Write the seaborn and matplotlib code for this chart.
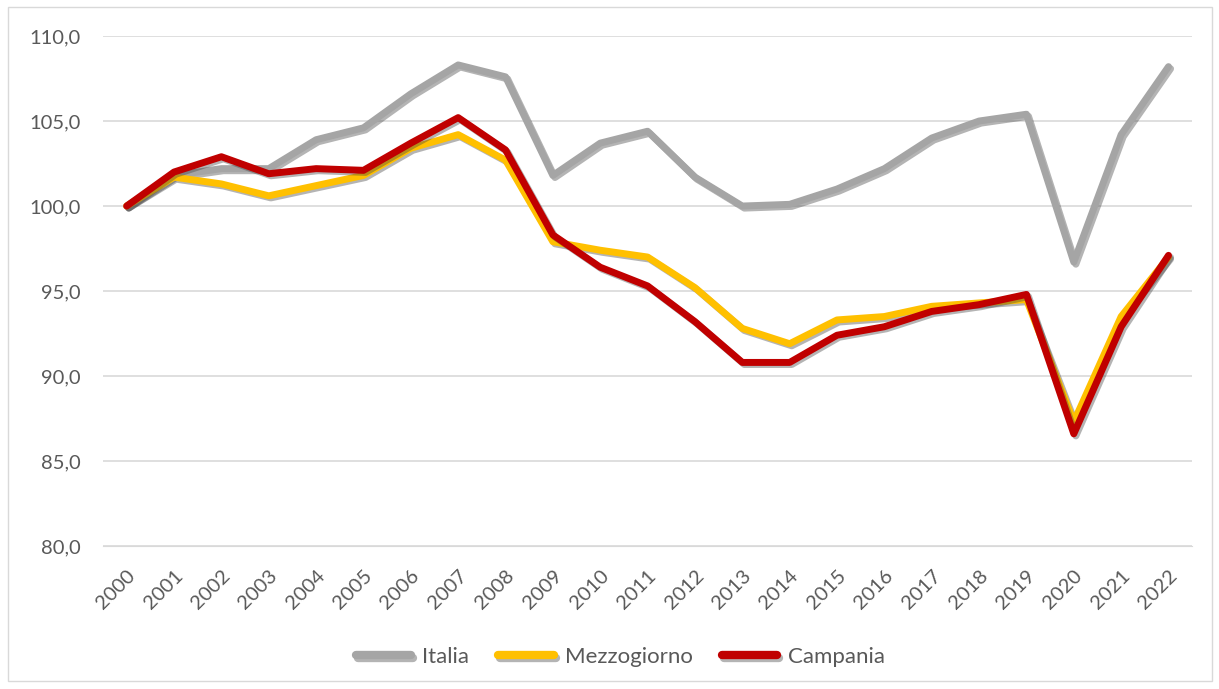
import pandas as pd
import numpy as np
import matplotlib
matplotlib.use("Agg")
import matplotlib.pyplot as plt
import matplotlib.patheffects as pe
from matplotlib.patches import Rectangle
import seaborn as sns

years = [str(y) for y in range(2000, 2023)]
italia = [100.0, 101.8, 102.2, 102.2, 103.9, 104.6, 106.6, 108.3, 107.6, 101.8,
          103.7, 104.4, 101.7, 100.0, 100.1, 101.0, 102.2, 104.0, 105.0, 105.4,
          96.7, 104.2, 108.2]
mezzogiorno = [100.0, 101.7, 101.3, 100.6, 101.2, 101.8, 103.4, 104.2, 102.7, 97.9,
               97.4, 97.0, 95.2, 92.8, 91.9, 93.3, 93.5, 94.1, 94.3, 94.5,
               87.3, 93.5, 97.0]
campania = [100.0, 102.0, 102.9, 101.9, 102.2, 102.1, 103.7, 105.2, 103.3, 98.3,
            96.4, 95.3, 93.2, 90.8, 90.8, 92.4, 92.9, 93.8, 94.2, 94.8,
            86.6, 92.9, 97.1]

series = {"Italia": italia, "Mezzogiorno": mezzogiorno, "Campania": campania}
colors = {"Italia": "#A5A5A5", "Mezzogiorno": "#FFC000", "Campania": "#C00000"}

df = pd.concat([pd.DataFrame({"anno": years, "valore": v, "serie": k})
                for k, v in series.items()])

sns.set_style("white")
plt.rcParams['font.family'] = ['Lato', 'DejaVu Sans']

fig = plt.figure(figsize=(12.19, 6.89), dpi=100)
ax = fig.add_axes([0.0845, 0.2075, 0.8935, 0.7402])

ax = sns.lineplot(data=df, x="anno", y="valore", hue="serie", palette=colors,
                  linewidth=5, sort=False, ax=ax)
shadow = [pe.SimpleLineShadow(offset=(1.5, -1.5), alpha=0.4, shadow_color="#444444"),
          pe.Normal()]
for line in ax.get_lines():
    line.set_path_effects(shadow)
    line.set_solid_capstyle("round")
    line.set_solid_joinstyle("round")

ax.set_xlim(-0.5, len(years) - 0.5)
ax.set_ylim(80, 110)
ax.set_yticks(np.arange(80, 111, 5))
ax.set_yticklabels([f"{v:.1f}".replace(".", ",") for v in np.arange(80, 111, 5)])
ax.yaxis.grid(True, color="#D9D9D9", linewidth=1.2)
ax.set_axisbelow(True)
for s in ax.spines.values():
    s.set_visible(False)
ax.spines["bottom"].set_visible(True)
ax.spines["bottom"].set_color("#D9D9D9")
ax.tick_params(axis="both", length=0, labelsize=14.5, colors="#595959")
ax.tick_params(axis="y", pad=16)
ax.tick_params(axis="x", pad=15)
plt.setp(ax.get_xticklabels(), rotation=45, ha="right", rotation_mode="anchor")
ax.set_xlabel("")
ax.set_ylabel("")

handles, labels = ax.get_legend_handles_labels()
leg = ax.legend(handles, labels, loc="center", bbox_to_anchor=(0.475, -0.218), ncol=3,
                frameon=False, fontsize=16, labelcolor="#595959", handlelength=2.5,
                columnspacing=1.3, handletextpad=0.5)
for h in leg.get_lines():
    h.set_linewidth(6)
    h.set_solid_capstyle("round")

fig.patches.append(Rectangle((8 / 1219, 8 / 689), 1 - 15 / 1219, 1 - 15 / 689,
                             transform=fig.transFigure, fill=False,
                             edgecolor="#D9D9D9", linewidth=1))

plt.savefig("out.png", dpi=100)
